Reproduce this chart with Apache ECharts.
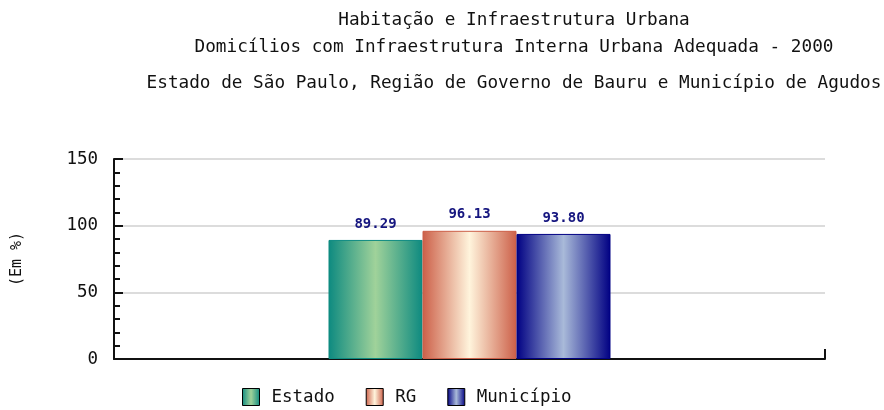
<!DOCTYPE html>
<html>
<head>
<meta charset="utf-8">
<script src="https://cdn.jsdelivr.net/npm/echarts@6/dist/echarts.min.js"></script>
<style>
  html, body { margin: 0; padding: 0; background: #fff; }
  #chart { width: 884px; height: 410px; }
</style>
</head>
<body>
<div id="chart"></div>
<script>
// dados
const titleLines = [
    'Habitação e Infraestrutura Urbana',
    'Domicílios com Infraestrutura Interna Urbana Adequada - 2000',
    'Estado de São Paulo, Região de Governo de Bauru e Município de Agudos'
];
const categories = [''];
const seriesNames = ['Estado', 'RG', 'Município'];
const estadoValues = [89.29];
const rgValues = [96.13];
const municipioValues = [93.80];
const yTicks = [0, 50, 100, 150];

const FONT = 'DejaVu Sans Mono';

// gradiente horizontal: borda -> centro -> borda
function barGradient(edge, mid) {
    return new echarts.graphic.LinearGradient(0, 0, 1, 0, [
        { offset: 0, color: edge },
        { offset: 0.5, color: mid },
        { offset: 1, color: edge }
    ], false);
}

const palette = [
    { edge: '#0d8a80', mid: '#a0d29a' },
    { edge: '#cc5f48', mid: '#fff4dc' },
    { edge: '#000083', mid: '#a9bad9' }
];
const valueLists = [estadoValues, rgValues, municipioValues];

const chart = echarts.init(document.getElementById('chart'));

const option = {
    backgroundColor: '#fff',
    animation: false,
    title: titleLines.map(function (t, i) {
        return {
            text: t,
            left: 509,
            top: [6, 33, 69][i],
            textAlign: 'center',
            textStyle: {
                fontFamily: FONT,
                fontSize: 17.7,
                fontWeight: 'normal',
                color: '#111'
            }
        };
    }),
    legend: {
        data: seriesNames,
        left: 237,
        top: 383,
        icon: 'rect',
        itemWidth: 17,
        itemHeight: 17,
        itemGap: 31,
        itemStyle: {
            borderColor: '#000',
            borderWidth: 1
        },
        textStyle: {
            fontFamily: FONT,
            fontSize: 17.5,
            color: '#111',
            padding: [0, 0, 0, 7]
        }
    },
    grid: {
        left: 114,
        right: 59,
        top: 159,
        bottom: 51,
        containLabel: false,
        outerBoundsMode: 'none'
    },
    xAxis: {
        type: 'category',
        data: categories,
        axisLine: { lineStyle: { color: '#111', width: 2 } },
        axisTick: { show: true, inside: true, length: 10, lineStyle: { color: '#111', width: 2 } },
        axisLabel: { show: false },
        splitLine: { show: false }
    },
    yAxis: {
        type: 'value',
        min: yTicks[0],
        max: yTicks[yTicks.length - 1],
        interval: 50,
        name: '(Em %)',
        nameLocation: 'middle',
        nameRotate: 90,
        nameGap: 89,
        nameTextStyle: {
            fontFamily: FONT,
            fontSize: 15,
            color: '#111'
        },
        axisLine: { show: true, lineStyle: { color: '#111', width: 2 } },
        axisTick: { show: true, inside: true, length: 9, lineStyle: { color: '#111', width: 2 } },
        minorTick: { show: true, splitNumber: 5, length: 6, lineStyle: { color: '#111', width: 2 } },
        axisLabel: {
            margin: 16,
            fontFamily: FONT,
            fontSize: 17.5,
            color: '#111'
        },
        splitLine: { show: true, lineStyle: { color: '#dcdcdc', width: 2 } }
    },
    series: seriesNames.map(function (name, i) {
        return {
            name: name,
            type: 'bar',
            data: valueLists[i],
            barWidth: 94,
            barGap: '0%',
            itemStyle: {
                color: barGradient(palette[i].edge, palette[i].mid),
                borderColor: palette[i].edge,
                borderWidth: 1
            },
            label: {
                show: true,
                position: 'top',
                distance: 9,
                formatter: function (p) { return p.value.toFixed(2); },
                fontFamily: FONT,
                fontSize: 14,
                fontWeight: 'bold',
                color: '#15157f'
            }
        };
    })
};

chart.setOption(option);
</script>
</body>
</html>
